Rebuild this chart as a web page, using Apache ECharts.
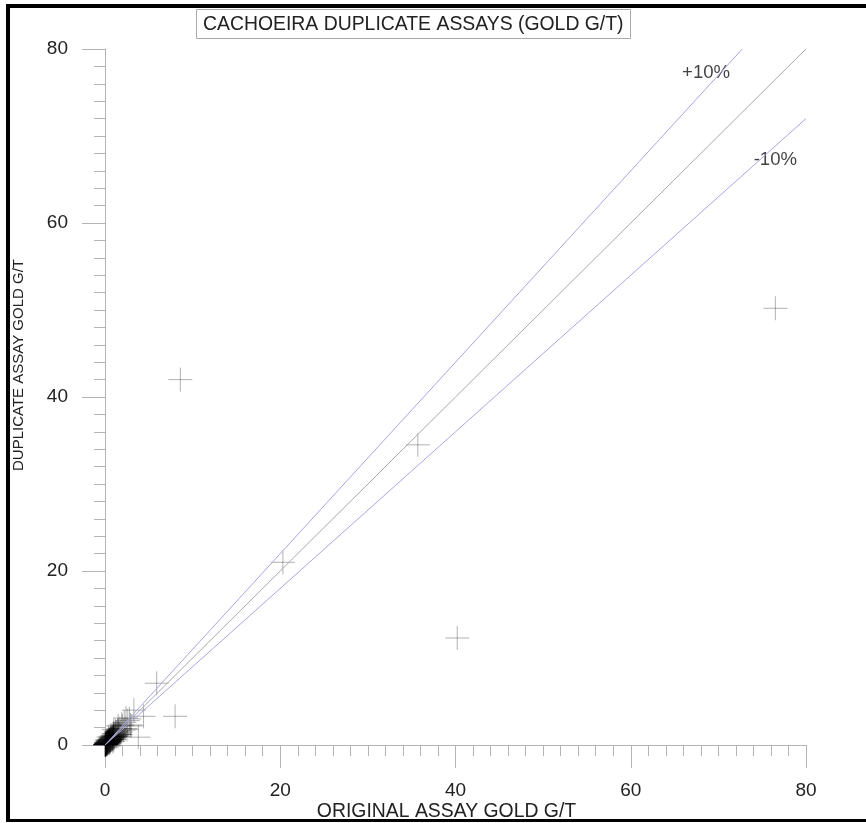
<!DOCTYPE html>
<html>
<head>
<meta charset="utf-8">
<script src="https://cdn.jsdelivr.net/npm/echarts@6/dist/echarts.min.js"></script>
<style>html,body{margin:0;padding:0;background:#fff}#chart{width:866px;height:823px}</style>
</head>
<body>
<div id="chart"></div>
<script>
// Original vs duplicate assay values (g/t)
var originalAssay = [8.6, 76.5, 35.7, 20.3, 40.2, 5.9, 8.0, 3.3, 4.4, 3.8, 2.8, 2.2, 1.8, 2.5, 1.5, 3.0,
  0.02,0.05,0.1,0.12,0.2,0.25,0.3,0.35,0.4,0.45,0.5,0.55,0.6,0.65,0.7,0.75,0.8,0.85,0.9,0.95,1.0,1.05,1.1,1.2,1.3,1.4,1.5,1.6,1.7,1.8,2.0,2.1,
  0.03,0.06,0.08,0.15,0.18,0.22,0.28,0.32,0.38,0.42,0.48,0.52,0.58,0.62,0.68,0.72,0.78,0.82,0.88,0.92,0.98,1.02,1.15,1.25,1.35,1.45,1.55,1.65,1.9,2.3,2.6,2.4,2.9,
  0.01,0.04,0.07,0.09,0.11,0.14,0.16,0.19,0.24,0.27,0.33,0.37,0.44,0.5,0.56,0.64,0.7,0.8,0.87,1.0,1.1,1.3,1.2,0.3,0.6,0.2,0.5,0.1,0.3,1.0,0.6,1.5,1.0,0.4,0.9];
var duplicateAssay = [42.0, 50.2, 34.5, 21.0, 12.3, 7.1, 3.3, 4.0, 3.3, 0.9, 3.0, 2.6, 1.2, 1.8, 2.2, 2.2,
  0.03,0.04,0.08,0.15,0.18,0.3,0.22,0.4,0.45,0.38,0.55,0.5,0.7,0.6,0.8,0.65,0.9,0.75,1.0,0.85,1.1,0.95,1.3,1.05,1.4,1.2,1.6,1.4,1.9,1.5,2.2,1.7,
  0.01,0.09,0.05,0.1,0.22,0.12,0.35,0.28,0.3,0.5,0.42,0.62,0.48,0.55,0.75,0.6,0.85,0.7,0.95,0.8,1.15,0.88,1.0,1.5,1.1,1.7,1.3,1.2,2.4,1.9,2.8,3.1,2.3,
  0.02,0.06,0.03,0.12,0.07,0.18,0.13,0.25,0.2,0.32,0.25,0.45,0.35,0.65,0.45,0.8,0.55,1.05,0.65,1.3,0.85,1.0,1.6,0.6,0.3,0.5,0.2,0.3,0.1,0.6,1.0,1.0,1.8,0.9,0.4];

// Reference lines: 1:1, +10% and -10%
var oneToOneX = [0, 80], oneToOneY = [0, 80];
var plusTenX = [0, 72.73], plusTenY = [0, 80];
var minusTenX = [0, 80], minusTenY = [0, 72];
// Line annotation labels and their anchor (data units)
var lineLabels = ['+10%', '-10%'];
var lineLabelX = [68.6, 76.5];
var lineLabelY = [77.3, 67.3];

// Axis ticks
var axisMin = 0, axisMax = 80, axisStep = 20;

function zip(xs, ys) { return xs.map(function (x, i) { return [x, ys[i]]; }); }

var FONT = '"Liberation Sans", Arial, sans-serif';
var chart = echarts.init(document.getElementById('chart'), null, {renderer: 'canvas'});

function axisCommon(name, nameGap, labelMargin, nameSize, namePadding) {
  return {
    type: 'value', min: axisMin, max: axisMax, interval: axisStep,
    name: name, nameLocation: 'middle', nameGap: nameGap, nameMoveOverlap: false,
    nameTextStyle: {fontFamily: FONT, fontSize: nameSize, color: '#222', padding: namePadding},
    axisLine: {show: true, onZero: false, lineStyle: {color: '#b4b4b4', width: 1}},
    axisTick: {show: true, inside: false, length: 23, lineStyle: {color: '#b4b4b4', width: 1}},
    minorTick: {show: true, splitNumber: 10, length: 11, lineStyle: {color: '#b4b4b4', width: 1}},
    axisLabel: {fontFamily: FONT, fontSize: 19, color: '#222', margin: labelMargin},
    splitLine: {show: false}, minorSplitLine: {show: false}
  };
}

var crossPath = 'path://M12,0L12,24M0,12L24,12';

chart.setOption({
  animation: false,
  backgroundColor: '#fff',
  title: {
    text: 'CACHOEIRA DUPLICATE ASSAYS (GOLD G/T)',
    left: 196, top: 9,
    padding: [6, 7, 5, 7],
    borderColor: '#aaa', borderWidth: 1, backgroundColor: '#fff',
    textStyle: {fontFamily: FONT, fontSize: 19.4, fontWeight: 'normal', color: '#222'}
  },
  grid: {left: 105, right: 60, top: 49, bottom: 78, containLabel: false, outerBoundsMode: 'none'},
  xAxis: axisCommon('ORIGINAL ASSAY GOLD G/T', 57, 36, 19.4, [0, 18, 0, 0]),
  yAxis: axisCommon('DUPLICATE ASSAY GOLD G/T', 79, 37, 15, [0, 0, 0, 64]),
  series: [
    {type: 'line', data: zip(oneToOneX, oneToOneY), symbol: 'none', silent: true,
     lineStyle: {color: '#a8a8a8', width: 1}},
    {type: 'line', data: zip(plusTenX, plusTenY), symbol: 'none', silent: true,
     lineStyle: {color: '#a6a6e6', width: 1}},
    {type: 'line', data: zip(minusTenX, minusTenY), symbol: 'none', silent: true,
     lineStyle: {color: '#a6a6e6', width: 1}},
    {type: 'scatter', data: zip(originalAssay, duplicateAssay), symbol: crossPath, symbolSize: 24,
     itemStyle: {color: 'none', borderColor: 'rgba(0,0,0,0.38)', borderWidth: 1}},
    {type: 'scatter', symbolSize: 0, silent: true,
     data: lineLabels.map(function (t, i) { return {name: t, value: [lineLabelX[i], lineLabelY[i]]}; }),
     label: {show: true, position: 'inside', formatter: '{b}', fontFamily: FONT, fontSize: 18.6, color: '#111'}}
  ],
  graphic: [
    {type: 'rect', shape: {x: 6, y: 4, width: 4, height: 818}, style: {fill: '#000'}, silent: true},
    {type: 'rect', shape: {x: 6, y: 4, width: 860, height: 4}, style: {fill: '#000'}, silent: true},
    {type: 'rect', shape: {x: 6, y: 819, width: 860, height: 3}, style: {fill: '#000'}, silent: true}
  ]
});
</script>
</body>
</html>
